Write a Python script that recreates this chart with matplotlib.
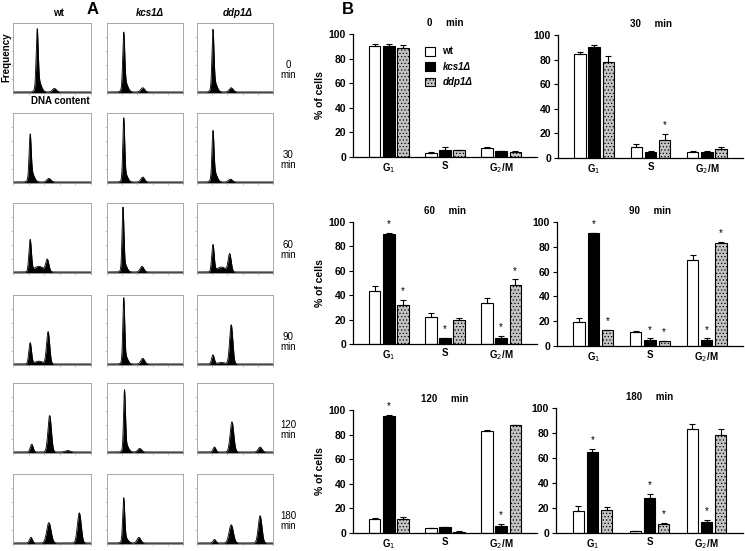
import numpy as np
import matplotlib
matplotlib.use('Agg')
import matplotlib.pyplot as plt

plt.rcParams['font.family'] = ['Liberation Sans', 'DejaVu Sans']
plt.rcParams['hatch.color'] = '#808080'
plt.rcParams['hatch.linewidth'] = 0.5

# ---- data ----
times = ['0', '30', '60', '90', '120', '180']
strains = ['wt', 'kcs1\u0394', 'ddp1\u0394']
phases = ['G$_1$', 'S', 'G$_2$/M']

# panel A: DNA content histograms, peaks as (position, height, width) in box fractions
wt_peaks = [
    [(0.31, 0.78, 0.013), (0.33, 0.15, 0.032), (0.53, 0.05, 0.025)],
    [(0.22, 0.58, 0.013), (0.24, 0.13, 0.032), (0.46, 0.05, 0.025)],
    [(0.22, 0.45, 0.016), (0.44, 0.17, 0.020), (0.33, 0.08, 0.06)],
    [(0.22, 0.30, 0.017), (0.45, 0.46, 0.020), (0.33, 0.04, 0.05)],
    [(0.24, 0.11, 0.018), (0.47, 0.52, 0.022), (0.70, 0.02, 0.03)],
    [(0.23, 0.08, 0.018), (0.46, 0.29, 0.028), (0.85, 0.43, 0.024)],
]
kcs1_peaks = [
    [(0.22, 0.74, 0.013), (0.24, 0.14, 0.032), (0.47, 0.06, 0.025)],
    [(0.22, 0.82, 0.012), (0.24, 0.12, 0.030), (0.47, 0.07, 0.024)],
    [(0.21, 0.83, 0.012), (0.23, 0.12, 0.030), (0.46, 0.08, 0.024)],
    [(0.22, 0.85, 0.012), (0.24, 0.12, 0.030), (0.47, 0.08, 0.024)],
    [(0.23, 0.80, 0.012), (0.25, 0.11, 0.030), (0.43, 0.05, 0.024)],
    [(0.22, 0.58, 0.013), (0.24, 0.08, 0.032), (0.42, 0.08, 0.024)],
]
ddp1_peaks = [
    [(0.21, 0.78, 0.013), (0.23, 0.14, 0.032), (0.45, 0.06, 0.025)],
    [(0.21, 0.62, 0.013), (0.23, 0.14, 0.032), (0.44, 0.04, 0.025)],
    [(0.21, 0.38, 0.016), (0.43, 0.25, 0.020), (0.32, 0.07, 0.06)],
    [(0.21, 0.13, 0.017), (0.45, 0.56, 0.021), (0.32, 0.02, 0.05)],
    [(0.23, 0.07, 0.018), (0.46, 0.43, 0.024), (0.83, 0.07, 0.024)],
    [(0.23, 0.05, 0.018), (0.45, 0.26, 0.028), (0.83, 0.39, 0.024)],
]

# panel B: % of cells per phase (G1, S, G2/M), one row per time point
wt_mean = [[90, 3.5, 7.5], [84.5, 9, 5], [43.5, 22.5, 33.5], [19.5, 11, 69.5], [11.7, 3.8, 83], [18, 1.5, 83.5]]
wt_err = [[1.5, 0.5, 0.5], [2, 2, 0.5], [4, 2.7, 4], [3, 1, 4], [0.5, 0.5, 1], [3.5, 0.3, 3.5]]
kcs1_mean = [[90, 6, 4.5], [90, 5, 5], [90.5, 5, 5], [91, 4.6, 4.6], [95.4, 4.6, 6], [64.5, 28, 8.5]]
kcs1_err = [[1.5, 2, 0.5], [1.5, 1, 0.5], [0.3, 0.3, 1.5], [0.3, 1.5, 1.5], [0.5, 0.3, 1.5], [2.5, 3.5, 2]]
ddp1_mean = [[89, 5.4, 4.4], [78, 15, 7.6], [32, 20, 48], [12.7, 4, 83], [11.7, 1, 87.5], [18.4, 7.5, 78.5]]
ddp1_err = [[2, 0.5, 0.5], [5, 4.5, 1], [4, 1.5, 5], [0.5, 0.3, 1], [1.5, 1, 0.5], [2.5, 0.5, 5]]
wt_star = [[0, 0, 0]] * 6
kcs1_star = [[0, 0, 0], [0, 0, 0], [1, 1, 1], [1, 1, 1], [1, 0, 1], [1, 1, 1]]
ddp1_star = [[0, 0, 0], [0, 1, 0], [1, 0, 1], [1, 1, 1], [0, 0, 0], [0, 1, 0]]

# ---- layout ----
W, H = 745, 551
fig = plt.figure(figsize=(W / 100, H / 100), dpi=100)


def add_ax(x0, y0, x1, y1):
    return fig.add_axes([x0 / W, 1 - y1 / H, (x1 - x0) / W, (y1 - y0) / H])


def ftext(x, y, s, **kw):
    fig.text(x / W, 1 - y / H, s, **kw)


# ---- panel A ----
col_x = [(13, 91), (107, 183), (197, 273)]
row_top = [23, 113, 203, 295, 383, 474]
xs = np.linspace(0, 1, 500)
for r in range(6):
    for c, peaks in enumerate([wt_peaks[r], kcs1_peaks[r], ddp1_peaks[r]]):
        ax = add_ax(col_x[c][0], row_top[r], col_x[c][1], row_top[r] + 70)
        y = np.full_like(xs, 0.015)
        for (m, h, s) in peaks:
            y += h * np.exp(-0.5 * ((xs - m) / s) ** 2)
        ax.fill_between(xs, 0.0, y, color='black', lw=0)
        ax.plot(xs, y, color='black', lw=0.6)
        ax.set_xlim(0, 1)
        ax.set_ylim(0, 1)
        for sp in ax.spines.values():
            sp.set_color('#9a9a9a')
            sp.set_linewidth(0.6)
        ax.set_xticks([0.0, 0.2, 0.4, 0.6, 0.8, 1.0])
        ax.set_yticks([0.2, 0.4, 0.6, 0.8])
        ax.tick_params(length=1.5, width=0.4, color='#9a9a9a',
                       labelbottom=False, labelleft=False)
    ftext(288, row_top[r] + 47, times[r] + '\nmin', fontsize=7,
          ha='center', va='center', linespacing=1.1)

ftext(58, 13, 'wt', fontsize=7, fontweight='bold', ha='center', va='center')
ftext(150, 13, 'kcs1\u0394', fontsize=7, fontweight='bold', style='italic', ha='center', va='center')
ftext(238, 13, 'ddp1\u0394', fontsize=7, fontweight='bold', style='italic', ha='center', va='center')
ftext(93, 9, 'A', fontsize=12, fontweight='bold', ha='center', va='center')
ftext(6, 57, 'Frequency', fontsize=7, fontweight='bold', rotation=90, ha='center', va='center')
ftext(60, 101, 'DNA content', fontsize=7, fontweight='bold', ha='center', va='center')

# ---- panel B ----
boxes = [(353, 34, 537, 157), (558, 35, 743, 158),
         (353, 222, 537, 344), (557, 222, 743, 346),
         (353, 410, 537, 533), (556, 408, 743, 533)]
fills = ['white', 'black', '#c4c4c4']
hatches = [None, None, '.....']
offs = [-0.25, 0.0, 0.25]
bw = 0.2
grp = np.arange(3)
means = [wt_mean, kcs1_mean, ddp1_mean]
errs = [wt_err, kcs1_err, ddp1_err]
stars = [wt_star, kcs1_star, ddp1_star]

for t in range(6):
    ax = add_ax(*boxes[t])
    handles = []
    for k in range(3):
        m = np.array(means[k][t])
        e = np.array(errs[k][t])
        b = ax.bar(grp + offs[k], m, bw, color=fills[k], edgecolor='black',
                   linewidth=0.8, hatch=hatches[k], label=strains[k], zorder=2)
        handles.append(b)
        ax.errorbar(grp + offs[k], m, yerr=[np.zeros(3), e], fmt='none',
                    ecolor='black', elinewidth=0.8, capsize=2.5, capthick=0.8, zorder=3)
        for p in range(3):
            if stars[k][t][p]:
                ax.text(grp[p] + offs[k], m[p] + e[p] + 3, '*', fontsize=7,
                        ha='center', va='bottom')
    ax.set_xlim(-0.64, 2.64)
    ax.set_ylim(0, 100)
    ax.set_yticks(range(0, 101, 20))
    ax.set_xticks(grp)
    ax.set_xticklabels(phases, fontsize=7, fontweight='bold')
    ax.tick_params(axis='x', length=0, pad=3)
    ax.tick_params(axis='y', length=3, width=0.8, labelsize=7.5, pad=2)
    for lab in ax.get_yticklabels():
        lab.set_fontweight('bold')
    ax.spines['top'].set_visible(False)
    ax.spines['right'].set_visible(False)
    ax.spines['left'].set_linewidth(0.9)
    ax.spines['bottom'].set_linewidth(0.9)
    ax.set_title(times[t] + '     min', fontsize=7, fontweight='bold', pad=6)
    if t % 2 == 0:
        ax.set_ylabel('% of cells', fontsize=7.5, fontweight='bold', labelpad=3)
    if t == 0:
        leg = ax.legend(handles=handles, loc='upper left', bbox_to_anchor=(0.37, 0.93),
                        frameon=False, fontsize=7, handlelength=1.0, handleheight=1.0,
                        labelspacing=0.55, handletextpad=0.8, borderaxespad=0)
        for tx in leg.get_texts()[1:]:
            tx.set_style('italic')
        for tx in leg.get_texts():
            tx.set_fontweight('bold')

ftext(348, 10, 'B', fontsize=12, fontweight='bold', ha='center', va='center')

fig.savefig('out.png', dpi=100, facecolor='white')
